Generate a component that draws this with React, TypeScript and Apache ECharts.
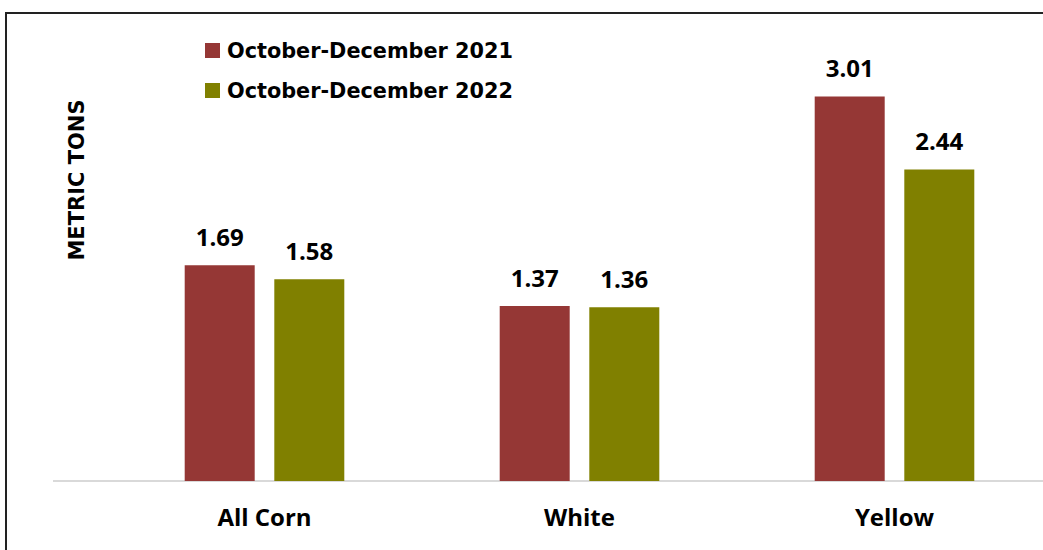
import React, { useEffect, useRef } from "react";
import * as echarts from "echarts";

const categories = ["All Corn", "White", "Yellow"];
const series2021 = [1.69, 1.37, 3.01];
const series2022 = [1.58, 1.36, 2.44];
const seriesNames = ["October-December 2021", "October-December 2022"];
const yAxisName = "METRIC TONS";

const FONT = "Open Sans";
const LEGEND_FONT = "DejaVu Sans";

export default function App() {
  const ref = useRef<HTMLDivElement>(null);
  useEffect(() => {
    if (!ref.current) return;
    const chart = echarts.init(ref.current, null, { renderer: "svg" });
    const labelStyle = {
      show: true,
      position: "top" as const,
      distance: 17,
      fontFamily: FONT,
      fontWeight: "bold" as const,
      fontSize: 24,
      lineHeight: 24,
      color: "#000",
      formatter: (p: any) => Number(p.value).toFixed(2),
    };
    chart.setOption({
      animation: false,
      backgroundColor: "#fff",
      legend: {
        orient: "vertical",
        left: 205,
        top: 40,
        padding: 0,
        itemWidth: 15,
        itemHeight: 15,
        itemGap: 19,
        icon: "rect",
        textStyle: {
          fontFamily: LEGEND_FONT,
          fontWeight: "bold",
          fontSize: 20.8,
          lineHeight: 20,
          color: "#000",
          padding: [0, 0, 0, 2],
        },
        data: seriesNames,
      },
      grid: { left: 107, width: 945, top: 34, bottom: 69, containLabel: false },
      xAxis: {
        type: "category",
        data: categories,
        axisLine: { show: false },
        axisTick: { show: false },
        axisLabel: {
          fontFamily: FONT,
          fontWeight: "bold",
          fontSize: 24,
          lineHeight: 24,
          color: "#000",
          margin: 23,
        },
      },
      yAxis: {
        type: "value",
        min: 0,
        max: 3.5,
        axisLabel: { show: false },
        axisLine: { show: false },
        axisTick: { show: false },
        splitLine: { show: false },
      },
      graphic: [
        {
          type: "rect",
          shape: { x: 6, y: 13, width: 1150, height: 600 },
          style: { fill: "none", stroke: "#222", lineWidth: 2 },
        },
        {
          type: "line",
          shape: { x1: 53, y1: 481, x2: 1100, y2: 481 },
          style: { stroke: "#d9d9d9", lineWidth: 2 },
        },
        {
          type: "text",
          x: 77,
          y: 180,
          rotation: Math.PI / 2,
          style: {
            text: yAxisName,
            fontFamily: LEGEND_FONT,
            fontWeight: "bold",
            fontSize: 21,
            fill: "#000",
            align: "center",
            verticalAlign: "middle",
          },
        },
      ],
      series: [
        {
          name: seriesNames[0],
          type: "bar",
          data: series2021,
          barWidth: 70,
          barGap: "28%",
          itemStyle: { color: "#953735" },
          label: labelStyle,
        },
        {
          name: seriesNames[1],
          type: "bar",
          data: series2022,
          barWidth: 70,
          barGap: "28%",
          itemStyle: { color: "#808000" },
          label: labelStyle,
        },
      ],
    });
    return () => chart.dispose();
  }, []);
  return (
    <div style={{ position: "fixed", left: 0, top: 0, width: 1043, height: 550, overflow: "hidden" }}>
      <div ref={ref} style={{ width: 1100, height: 550 }} />
    </div>
  );
}
